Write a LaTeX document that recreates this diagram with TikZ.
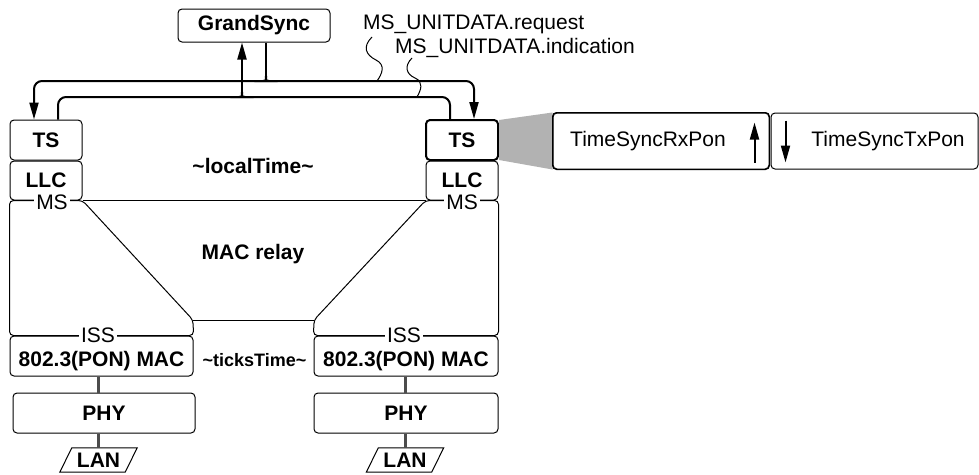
\documentclass[tikz,border=0pt]{standalone}
\usepackage{fontspec}
\setmainfont{Liberation Sans}
\usetikzlibrary{arrows.meta,calc}

\begin{document}
\begin{tikzpicture}[x=1pt,y=-1pt,
  every node/.style={font=\fontsize{21}{25}\selectfont, inner sep=0pt},
  box/.style={draw, rounded corners=4pt, line width=1pt,
              font=\fontsize{21}{25}\selectfont\bfseries},
  tag/.style={fill=white, inner xsep=2.5pt, inner ysep=1pt},
  plain/.style={line width=1pt},
  wire/.style={line width=2pt},
  arrowend/.style={-{Triangle[length=17pt,width=9pt]}},
  link/.style={line width=3pt, draw=black!70},
]
\useasboundingbox (0,0) rectangle (979,474);

% upper layer boxes
\node[box, minimum width=152pt, minimum height=33pt] (gs) at (254,25.5) {GrandSync};
\node[box, minimum width=72pt, minimum height=40pt] (tsL) at (46,140) {TS};
\node[box, minimum width=72pt, minimum height=40pt, line width=2pt] (tsR) at (462,140) {TS};
\node[box, minimum width=72pt, minimum height=39pt] (llcL) at (46,180.5) {LLC};
\node[box, minimum width=72pt, minimum height=39pt] (llcR) at (462,180.5) {LLC};

% MAC, PHY and LAN
\node[box, minimum width=183pt, minimum height=40pt, text height=20pt, text depth=0pt] (macL) at (101.5,356) {802.3(PON) MAC};
\node[box, minimum width=184pt, minimum height=40pt, text height=20pt, text depth=0pt] (macR) at (406,356) {802.3(PON) MAC};
\node[box, minimum width=182pt, minimum height=40pt] (phyL) at (104,413) {PHY};
\node[box, minimum width=184pt, minimum height=40pt] (phyR) at (406,413) {PHY};
\node[font=\fontsize{21}{25}\selectfont\bfseries, minimum width=65pt, minimum height=24pt] (lanL) at (98.5,460) {LAN};
\node[font=\fontsize{21}{25}\selectfont\bfseries, minimum width=65pt, minimum height=24pt] (lanR) at (405,460) {LAN};
\foreach \n in {lanL,lanR}{
  \draw[plain] ($(\n.south west)+(-6,0)$) -- ($(\n.north west)+(6,0)$)
    -- ($(\n.north east)+(6,0)$) -- ($(\n.south east)+(-6,0)$) -- cycle;
}
\draw[link] (lanL.north |- macL.south) -- (lanL.north |- phyL.north);
\draw[link] (lanL.north |- phyL.south) -- (lanL.north);
\draw[link] (lanR.north |- macR.south) -- (lanR.north |- phyR.north);
\draw[link] (lanR.north |- phyR.south) -- (lanR.north);

% MAC relay outline
\coordinate (trBL) at (193,320);
\coordinate (trBR) at (314,320);
\draw[plain, rounded corners=4pt] (llcL.south east) -- (llcL.south west)
  -- (llcL.south west |- macL.north) -- (macL.north east) -- (trBL) -- cycle;
\draw[plain, rounded corners=4pt] (llcR.south west) -- (llcR.south east)
  -- (llcR.south east |- macR.north) -- (macR.north west) -- (trBR) -- cycle;
\draw[plain] (llcL.south east) -- (llcR.south west);
\draw[plain] (trBL) -- (trBR);

% service interface labels
\node[tag] (msL) at (52,202) {MS};
\node[tag] (msR) at (462,202) {MS};
\node[tag] (issL) at (98,335.5) {ISS};
\node[tag] (issR) at (404,335.5) {ISS};

% inner texts
\node[font=\fontsize{21}{25}\selectfont\bfseries] (lt) at (253,166) {\textasciitilde localTime\textasciitilde};
\node[font=\fontsize{21}{25}\selectfont\bfseries] (mr) at (253,254) {MAC relay};
\node[font=\fontsize{18}{22}\selectfont\bfseries] (tt) at (254.5,360) {\textasciitilde ticksTime\textasciitilde};

% GrandSync wiring
\coordinate (jA) at (266,76);
\coordinate (jB) at (242,92);
\coordinate (aL) at (34,81);
\coordinate (aR) at (474,81);
\coordinate (bL) at (58,97);
\coordinate (bR) at (450,97);
\draw[wire] (gs.south -| jA) -- (jA);
\draw[wire, arrowend, rounded corners=8pt] (jA) .. controls (jA |- aL) .. ($(jA |- aL)+(-5,0)$)
  -- (aL) -- (aL |- tsL.north);
\draw[wire, arrowend, rounded corners=8pt] (jA) .. controls (jA |- aR) .. ($(jA |- aR)+(5,0)$)
  -- (aR) -- (aR |- tsR.north);
\draw[wire, rounded corners=8pt] (bL |- tsL.north) -- (bL) -- ($(jB |- bL)+(-5,0)$)
  .. controls (jB |- bL) .. (jB);
\draw[wire, rounded corners=8pt] (jB) .. controls (jB |- bR) .. ($(jB |- bR)+(5,0)$)
  -- (bR) -- (bR |- tsR.north);
\draw[wire, arrowend] (jB) -- (jB |- gs.south);

% primitive names
\node[anchor=base west] (req) at (363,29) {MS\_UNITDATA.request};
\node[anchor=base west] (ind) at (395,53) {MS\_UNITDATA.indication};
\draw[plain] (372,37) .. controls (362,47) and (366,55) .. (376,60)
  .. controls (386,65) and (382,74) .. (377,81);
\draw[plain] (412,58) .. controls (404,66) and (406,74) .. (415,78)
  .. controls (424,82) and (421,90) .. (417,97);

% TS detail panel
\node[draw, rounded corners=4pt, line width=1pt, minimum width=216pt, minimum height=56pt] (rx) at (661,141) {};
\node[draw, rounded corners=4pt, line width=1pt, minimum width=207pt, minimum height=56pt] (tx) at (874.5,141) {};
\fill[black!30] ($(tsR.north east)+(0,1)$) -- (rx.north west) -- (rx.south west)
  -- ($(tsR.south east)+(0,-1)$) -- cycle;
\draw[rounded corners=4pt, line width=1pt] (rx.north west) rectangle (rx.south east);
\node (rxT) at (648,141) {TimeSyncRxPon};
\node (txT) at (888,141) {TimeSyncTxPon};
\draw[wire, arrowend] ($(rx.south east)+(-15,-7)$) -- ($(rx.north east)+(-15,10)$);
\draw[wire, arrowend] ($(tx.north west)+(15,8)$) -- ($(tx.south west)+(15,-7)$);
\end{tikzpicture}
\end{document}
